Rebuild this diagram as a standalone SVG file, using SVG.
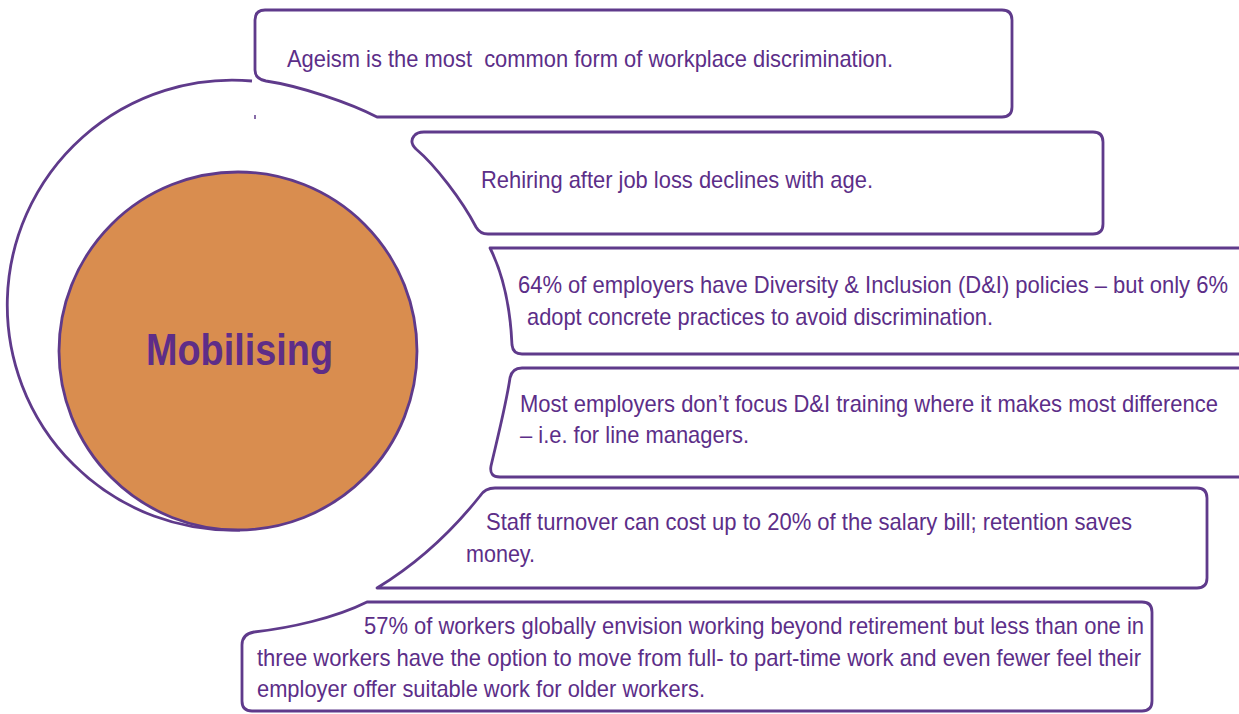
<svg xmlns="http://www.w3.org/2000/svg" width="1239" height="714" viewBox="0 0 1239 714">
<style>
  .box { fill: #ffffff; stroke: #5F3A8B; stroke-width: 2.8; stroke-linejoin: round; }
  .arc { fill: none; stroke: #5F3A8B; stroke-width: 2.8; }
  .t { font-family: "Liberation Sans", Arial, sans-serif; font-size: 24px; fill: #5C2E88; }
  .title { font-family: "Liberation Sans", Arial, sans-serif; font-size: 45px; font-weight: bold; fill: #5E2D88; }
</style>
<rect x="0" y="0" width="1239" height="714" fill="#ffffff"/>

<g id="outer-ring">
  <path class="arc" d="M 252 81 A 225 225 0 1 0 240 530"/>
  <line x1="255" y1="115" x2="255" y2="119" stroke="#5F3A8B" stroke-width="1.5"/>
</g>

<g id="center">
  <circle cx="238" cy="351" r="179" fill="#D98D4F" stroke="#5F3A8B" stroke-width="2.8"/>
  <text class="title" x="146" y="365" textLength="187" lengthAdjust="spacingAndGlyphs">Mobilising</text>
</g>

<g id="connectors"></g>

<g id="box1">
  <path class="box" d="M 265 10 H 1002 Q 1012 10 1012 20 V 107 Q 1012 117 1002 117 H 377 C 350 103, 300 86, 266 81 Q 255 79 255 70 V 20 Q 255 10 265 10 Z"/>
  <text class="t" x="287" y="67" textLength="606" lengthAdjust="spacingAndGlyphs" xml:space="preserve">Ageism is the most  common form of workplace discrimination.</text>
</g>

<g id="box2">
  <path class="box" d="M 424 132 H 1093 Q 1103 132 1103 142 V 224 Q 1103 234 1093 234 H 488 Q 480 234 476 227 C 462 200, 435 165, 416 149 Q 409 142 414 136 Q 417 132 424 132 Z"/>
  <text class="t" x="481" y="188" textLength="392" lengthAdjust="spacingAndGlyphs">Rehiring after job loss declines with age.</text>
</g>

<g id="box3">
  <path class="box" d="M 1239 248 H 490 C 500 268, 510 300, 512 345 Q 513 354 522 354 H 1239"/>
  <text class="t" x="518" y="293" textLength="710" lengthAdjust="spacingAndGlyphs">64% of employers have Diversity &amp; Inclusion (D&amp;I) policies – but only 6%</text>
  <text class="t" x="527" y="325" textLength="466" lengthAdjust="spacingAndGlyphs">adopt concrete practices to avoid discrimination.</text>
</g>

<g id="box4">
  <path class="box" d="M 1239 368 H 522 Q 512 368 510 378 C 506 405, 497 440, 491 466 Q 489 477 500 477 H 1239"/>
  <text class="t" x="520" y="412" textLength="698" lengthAdjust="spacingAndGlyphs">Most employers don’t focus D&amp;I training where it makes most difference</text>
  <text class="t" x="520" y="443" textLength="229" lengthAdjust="spacingAndGlyphs">– i.e. for line managers.</text>
</g>

<g id="box5">
  <path class="box" d="M 495 488 H 1197 Q 1207 488 1207 498 V 578 Q 1207 588 1197 588 H 377 C 410 568, 445 540, 480 496 Q 485 488 495 488 Z"/>
  <text class="t" x="486" y="530" textLength="646" lengthAdjust="spacingAndGlyphs">Staff turnover can cost up to 20% of the salary bill; retention saves</text>
  <text class="t" x="466" y="562" textLength="69" lengthAdjust="spacingAndGlyphs">money.</text>
</g>

<g id="box6">
  <path class="box" d="M 367 602 H 1142 Q 1152 602 1152 612 V 701 Q 1152 711 1142 711 H 252 Q 242 711 242 701 V 645 Q 242 634 254 632 C 290 628, 335 618, 367 602 Z"/>
  <text class="t" x="364" y="634" textLength="780" lengthAdjust="spacingAndGlyphs">57% of workers globally envision working beyond retirement but less than one in</text>
  <text class="t" x="257" y="666" textLength="884" lengthAdjust="spacingAndGlyphs">three workers have the option to move from full- to part-time work and even fewer feel their</text>
  <text class="t" x="257" y="697" textLength="448" lengthAdjust="spacingAndGlyphs">employer offer suitable work for older workers.</text>
</g>
</svg>
